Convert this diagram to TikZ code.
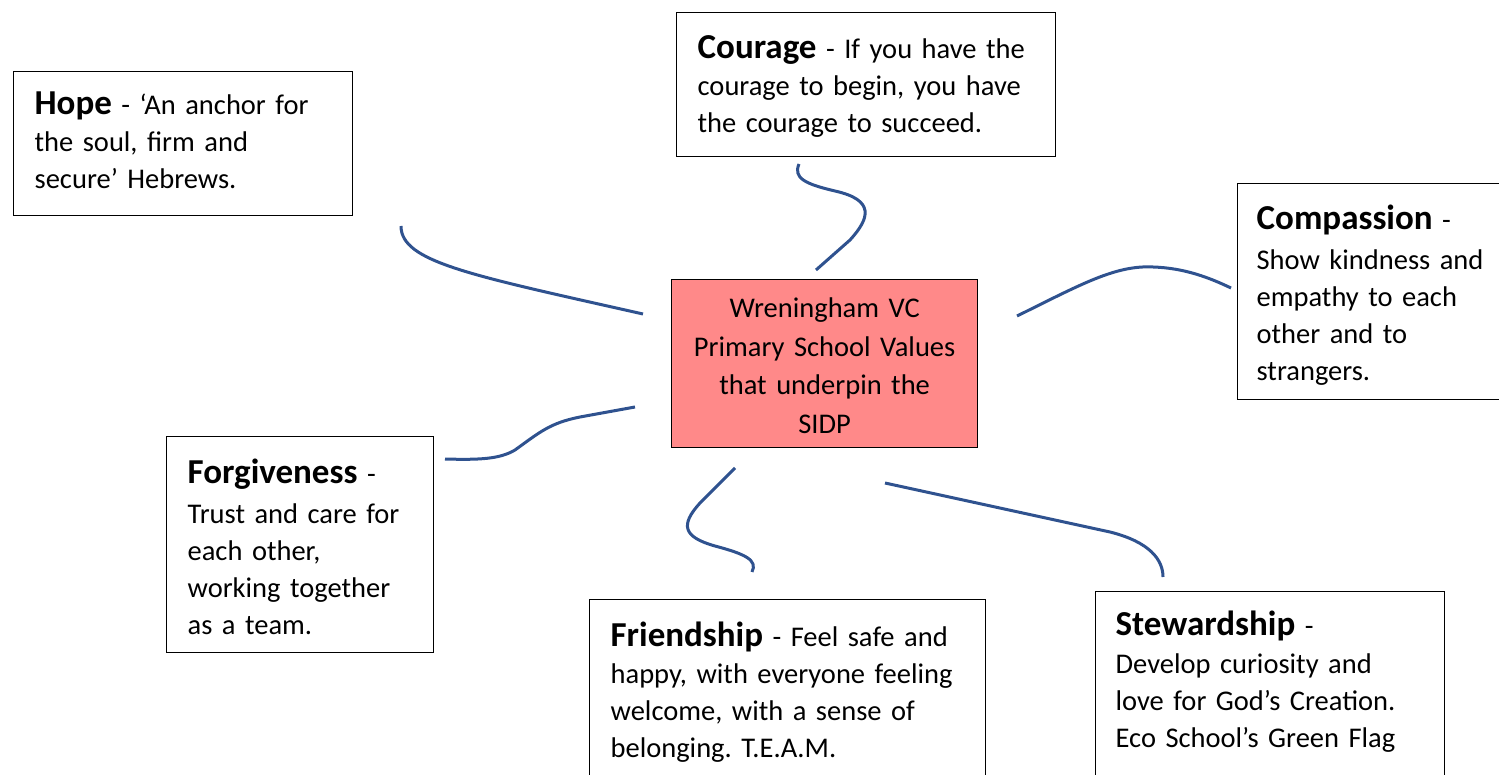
\documentclass[tikz,border=0pt]{standalone}
\usepackage{fontspec}
\setmainfont{Carlito}
\usepackage{tikz}
\usetikzlibrary{positioning}
\definecolor{mylinkblue}{RGB}{47,82,143}
\definecolor{mysalmon}{RGB}{255,137,137}
\tikzstyle{valuebox}=[draw,line width=1.3pt,anchor=north west,inner xsep=21pt,inner ysep=0pt,align=left]
\newcommand{\valname}[1]{{\fontsize{35}{37}\selectfont\bfseries #1}}
\frenchspacing

\begin{document}
\begin{tikzpicture}[
  x=1pt,
  y=-1pt,
  font=\fontsize{28.5}{37}\selectfont,
  link/.style={draw=mylinkblue,line width=3pt},
  mybox/.style n args={3}{
    valuebox,
    text width=#1,
    text height=#2,
    text depth=#3
    }
]
\useasboundingbox (0,0) rectangle (1499,775);

\node[valuebox,fill=mysalmon,align=center,inner xsep=8pt,
  text width=290pt,text height=38pt,text depth=130pt,
  font=\fontsize{28.5}{38.5}\selectfont] (sidp) at (671,279)
  {Wreningham VC\\ Primary School Values\\ that underpin the\\ SIDP};

\node[mybox={297pt}{43pt}{101pt}] (hope) at (13,71)
  {\valname{Hope} - ‘An anchor for\\ the soul, firm and\\ secure’ Hebrews.};
\node[mybox={337pt}{46pt}{98pt}] (courage) at (676,12)
  {\valname{Courage} - If you have the\\ courage to begin, you have\\ the courage to succeed.};
\node[mybox={240pt}{46pt}{170pt},inner xsep=19pt] (compassion) at (1237,183)
  {\valname{Compassion} -\\[3pt] Show kindness and\\ empathy to each\\ other and to\\ strangers.};
\node[mybox={225pt}{47pt}{169pt}] (forgiveness) at (166,436)
  {\valname{Forgiveness} -\\[3pt] Trust and care for\\ each other,\\ working together\\ as a team.};
\node[mybox={354pt}{47pt}{200pt}] (friendship) at (589,599)
  {\valname{Friendship} - Feel safe and\\ happy, with everyone feeling\\ welcome, with a sense of\\ belonging. T.E.A.M.};
\node[mybox={309pt}{44pt}{200pt},inner xsep=20pt] (stewardship) at (1095,591)
  {\valname{Stewardship} -\\[1pt] Develop curiosity and\\ love for God’s Creation.\\ Eco School’s Green Flag};

\coordinate (hope-a) at (401,226);
\coordinate (hope-b) at (643,314);
\coordinate (courage-a) at (799,164);
\coordinate (courage-b) at (816,270);
\coordinate (compassion-a) at (1017,316);
\coordinate (compassion-b) at (1231,288);
\coordinate (forgiveness-a) at (445,459);
\coordinate (forgiveness-b) at (635,407);
\coordinate (friendship-a) at (735,468);
\coordinate (friendship-b) at (752,572);
\coordinate (stewardship-a) at (885,483);
\coordinate (stewardship-b) at (1163,577);

\draw[link] (hope-a) .. controls (401,262) and (470,275) .. (hope-b);
\draw[link] (courage-a) .. controls (793,178) and (805,184) .. (835,191)
  .. controls (875,200) and (870,218) .. (850,240) -- (courage-b);
\draw[link] (compassion-a) .. controls (1080,285) and (1115,265) .. (1153,267)
  .. controls (1185,268) and (1210,278) .. (compassion-b);
\draw[link] (forgiveness-a) .. controls (480,460) and (500,459) .. (515,450)
  .. controls (540,432) and (550,423) .. (580,417) -- (forgiveness-b);
\draw[link] (friendship-a) -- (700,503) .. controls (680,525) and (683,537) .. (715,546)
  .. controls (745,554) and (758,560) .. (friendship-b);
\draw[link] (stewardship-a) -- (1110,532) .. controls (1150,542) and (1163,560) .. (stewardship-b);

\end{tikzpicture}
\end{document}
